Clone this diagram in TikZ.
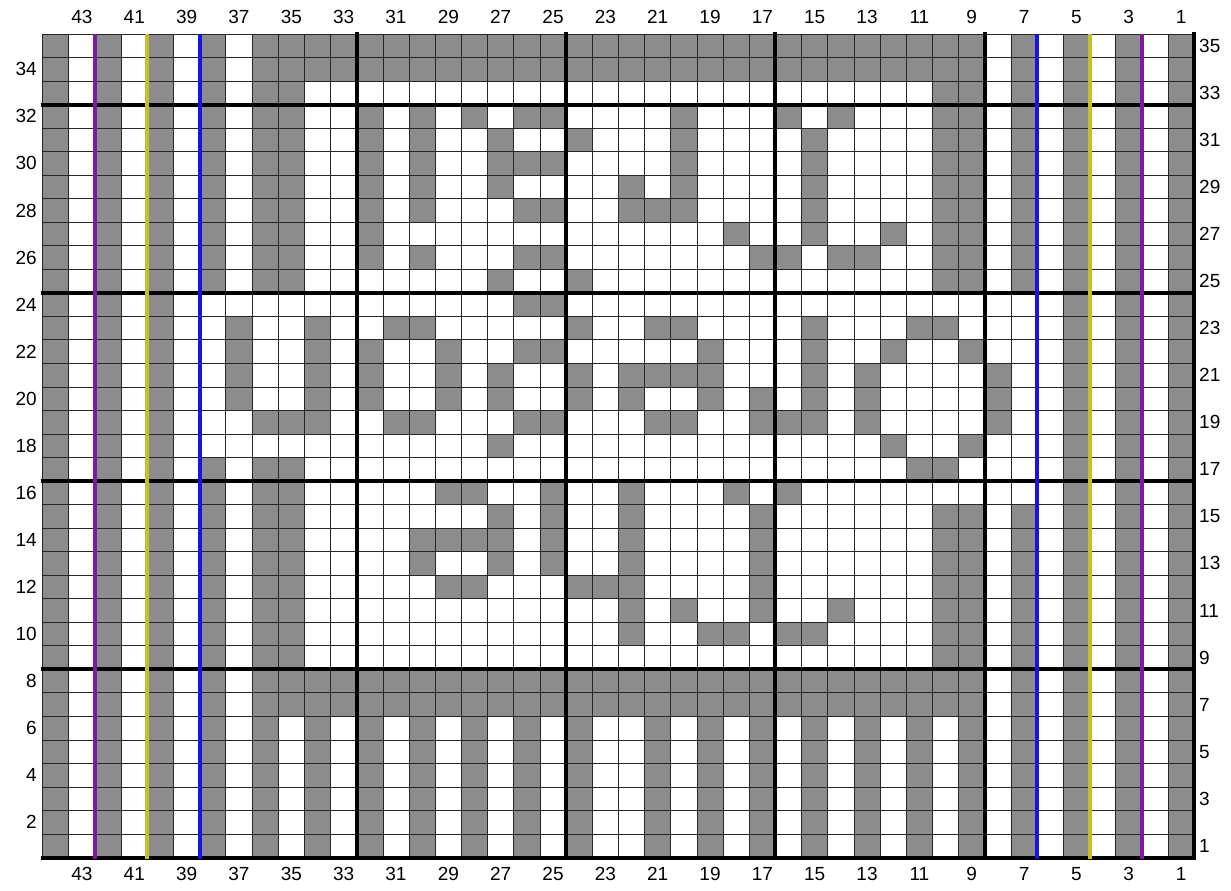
\documentclass[tikz,border=0pt]{standalone}
\usepackage{fontspec}
\setmainfont{Liberation Sans}
\definecolor{cellgrey}{RGB}{140,140,140}
\definecolor{lpurple}{RGB}{128,24,160}
\definecolor{lyellow}{RGB}{200,190,40}
\definecolor{lblue}{RGB}{20,20,230}
\tikzset{
  cell/.style={fill=cellgrey},
  gridline/.style={draw=black!85, line width=0.8pt},
  heavy/.style={draw=black, line width=4pt},
  colline/.style={line width=4pt},
  lbl/.style={font=\fontsize{19}{22}\selectfont, inner sep=0pt}
}
\begin{document}
\begin{tikzpicture}[x=1pt,y=-1pt]
\useasboundingbox (0,0) rectangle (1231,891);
\fill[white] (0,0) rectangle (1231,891);
\def\X{42.7}\def\Y{34}\def\W{26.17}\def\H{23.53}
% grey cells
\foreach \r/\cols in {
35/{44,42,40,38,36,35,34,33,32,31,30,29,28,27,26,25,24,23,22,21,20,19,18,17,16,15,14,13,12,11,10,9,7,5,3,1},
34/{44,42,40,38,36,35,34,33,32,31,30,29,28,27,26,25,24,23,22,21,20,19,18,17,16,15,14,13,12,11,10,9,7,5,3,1},
33/{44,42,40,38,36,35,10,9,7,5,3,1},
32/{44,42,40,38,36,35,32,30,28,26,25,20,16,14,10,9,7,5,3,1},
31/{44,42,40,38,36,35,32,30,27,24,20,15,10,9,7,5,3,1},
30/{44,42,40,38,36,35,32,30,27,26,25,20,15,10,9,7,5,3,1},
29/{44,42,40,38,36,35,32,30,27,22,20,15,10,9,7,5,3,1},
28/{44,42,40,38,36,35,32,30,26,25,22,21,20,15,10,9,7,5,3,1},
27/{44,42,40,38,36,35,32,18,15,12,10,9,7,5,3,1},
26/{44,42,40,38,36,35,32,30,26,25,17,16,14,13,10,9,7,5,3,1},
25/{44,42,40,38,36,35,27,24,10,9,7,5,3,1},
24/{44,42,40,26,25,5,3,1},
23/{44,42,40,37,34,31,30,24,21,20,15,11,10,5,3,1},
22/{44,42,40,37,34,32,29,26,25,19,15,12,9,5,3,1},
21/{44,42,40,37,34,32,29,27,24,22,21,20,19,15,13,8,5,3,1},
20/{44,42,40,37,34,32,29,27,24,22,19,17,15,13,8,5,3,1},
19/{44,42,40,36,35,34,31,30,26,25,21,20,17,16,15,13,8,5,3,1},
18/{44,42,40,27,12,9,5,3,1},
17/{44,42,40,38,36,35,11,10,5,3,1},
16/{44,42,40,38,36,35,29,28,25,22,18,16,5,3,1},
15/{44,42,40,38,36,35,27,25,22,17,10,9,7,5,3,1},
14/{44,42,40,38,36,35,30,29,28,27,25,22,17,10,9,7,5,3,1},
13/{44,42,40,38,36,35,30,27,25,22,17,10,9,7,5,3,1},
12/{44,42,40,38,36,35,29,28,24,23,22,17,10,9,7,5,3,1},
11/{44,42,40,38,36,35,22,20,17,14,10,9,7,5,3,1},
10/{44,42,40,38,36,35,22,19,18,16,15,10,9,7,5,3,1},
9/{44,42,40,38,36,35,10,9,7,5,3,1},
8/{44,42,40,38,36,35,34,33,32,31,30,29,28,27,26,25,24,23,22,21,20,19,18,17,16,15,14,13,12,11,10,9,7,5,3,1},
7/{44,42,40,38,36,35,34,33,32,31,30,29,28,27,26,25,24,23,22,21,20,19,18,17,16,15,14,13,12,11,10,9,7,5,3,1},
6/{44,42,40,38,36,34,32,30,28,26,24,21,19,17,15,13,11,9,7,5,3,1},
5/{44,42,40,38,36,34,32,30,28,26,24,21,19,17,15,13,11,9,7,5,3,1},
4/{44,42,40,38,36,34,32,30,28,26,24,21,19,17,15,13,11,9,7,5,3,1},
3/{44,42,40,38,36,34,32,30,28,26,24,21,19,17,15,13,11,9,7,5,3,1},
2/{44,42,40,38,36,34,32,30,28,26,24,21,19,17,15,13,11,9,7,5,3,1},
1/{44,42,40,38,36,34,32,30,28,26,24,21,19,17,15,13,11,9,7,5,3,1}}{
  \foreach \c in \cols {
    \fill[cell] ({\X+(44-\c)*\W},{\Y+(35-\r)*\H}) rectangle ++(\W,\H);
  }
}
% thin grid
\foreach \i in {0,...,44} {
  \draw[gridline] ({\X+\i*\W},\Y) -- ({\X+\i*\W},{\Y+35*\H});
}
\foreach \j in {0,...,35} {
  \draw[gridline] (\X,{\Y+\j*\H}) -- ({\X+44*\W},{\Y+\j*\H});
}
% heavy lines
\foreach \i in {12,20,28,36,44} {
  \draw[heavy] ({\X+\i*\W},{\Y-1.5}) -- ({\X+\i*\W},{\Y+35*\H+2});
}
\foreach \j in {3,11,19,27,35} {
  \draw[heavy] ({\X-2},{\Y+\j*\H}) -- ({\X+44*\W+2},{\Y+\j*\H});
}
% coloured lines
\foreach \i/\col in {2/lpurple,4/lyellow,6/lblue,38/lblue,40/lyellow,42/lpurple} {
  \draw[colline,draw=\col] ({\X+\i*\W},\Y) -- ({\X+\i*\W},{\Y+35*\H+1.5});
}
% column labels
\foreach \n in {43,41,...,1} {
  \node[lbl] (top\n) at ({\X+(44-\n+0.5)*\W},17) {\n};
  \node[lbl] (bot\n) at ({\X+(44-\n+0.5)*\W},874) {\n};
}
% row labels
\foreach \n in {34,32,...,2} {
  \node[lbl,anchor=east] (lft\n) at (37,{\Y+(35-\n+0.5)*\H}) {\n};
}
\foreach \n in {35,33,...,1} {
  \node[lbl,anchor=west] (rgt\n) at (1199,{\Y+(35-\n+0.5)*\H}) {\n};
}
\end{tikzpicture}
\end{document}
